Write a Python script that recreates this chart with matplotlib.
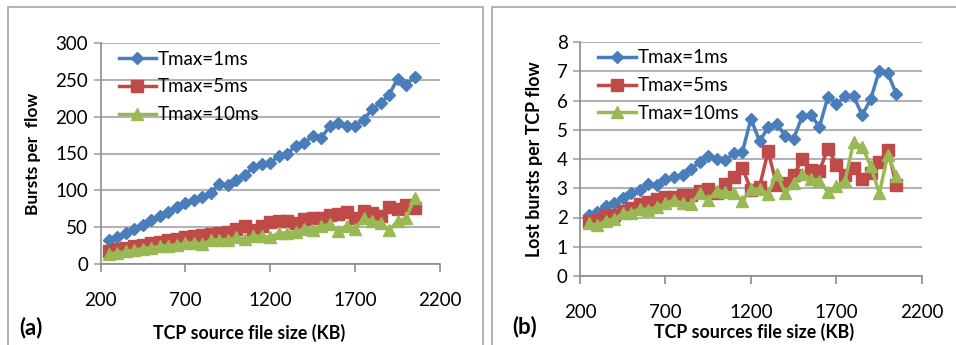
import numpy as np
import matplotlib
matplotlib.use("Agg")
import matplotlib.pyplot as plt
from matplotlib.patches import Rectangle

plt.rcParams["font.family"] = ["Lato", "DejaVu Sans"]

# file sizes (KB)
file_size = np.arange(250, 2051, 50)

# (a) bursts per flow
bursts_1ms = [33, 37, 42, 48, 53, 60, 65, 71, 77, 83, 87, 91, 97, 109, 107, 114, 121, 131, 136,
              137, 147, 150, 160, 164, 174, 171, 187, 191, 187, 188, 196, 210, 218, 230, 251, 243, 254]
bursts_5ms = [18, 20, 22, 24, 26, 28, 30, 32, 34, 36, 38, 39, 41, 42, 44, 47, 52, 46, 52,
              57, 58, 59, 56, 61, 63, 62, 67, 68, 70, 62, 72, 69, 65, 78, 75, 80, 76]
bursts_10ms = [14, 15, 17, 19, 21, 22, 24, 25, 26, 28, 29, 27, 32, 33, 33, 36, 34, 38, 38,
               36, 42, 42, 44, 48, 46, 51, 54, 45, 52, 48, 62, 58, 56, 46, 58, 62, 90]

# (b) lost bursts per TCP flow
lost_1ms = [2.1, 2.2, 2.4, 2.5, 2.65, 2.85, 2.95, 3.15, 3.1, 3.3, 3.4, 3.45, 3.65, 3.9, 4.1, 4.0,
            3.95, 4.2, 4.25, 5.38, 4.6, 5.08, 5.2, 4.8, 4.7, 5.47, 5.5, 5.1, 6.13, 5.88, 6.15,
            6.15, 5.5, 6.04, 7.02, 6.93, 6.22]
lost_5ms = [1.87, 1.9, 2.05, 2.1, 2.23, 2.32, 2.46, 2.53, 2.62, 2.71, 2.69, 2.78, 2.78, 2.9, 2.99,
            2.85, 3.15, 3.4, 3.69, 2.94, 3.05, 4.26, 3.12, 3.19, 3.46, 3.99, 3.62, 3.6, 4.35,
            3.81, 3.44, 3.69, 3.33, 3.51, 3.9, 4.31, 3.1]
lost_10ms = [1.8, 1.73, 1.89, 1.94, 2.14, 2.17, 2.3, 2.26, 2.37, 2.48, 2.6, 2.48, 2.46, 2.85, 2.6,
             2.92, 2.87, 2.83, 2.55, 2.99, 2.96, 2.8, 3.49, 2.83, 3.19, 3.49, 3.33, 3.26, 2.87,
             3.08, 3.26, 4.58, 4.42, 3.76, 2.83, 4.13, 3.42]

labels = ["Tmax=1ms", "Tmax=5ms", "Tmax=10ms"]
colors = ["#4A7EBB", "#BE4B48", "#98B954"]
markers = ["D", "s", "^"]
msizes = [6.5, 8, 8.5]

fig = plt.figure(figsize=(9.56, 3.45), dpi=100)

# panel frames
fig.patches.append(Rectangle((8 / 956, -0.1), 475 / 956, 1.1 - 7 / 345, transform=fig.transFigure,
                             fill=False, edgecolor="#a6a6a6", lw=1.2))
fig.patches.append(Rectangle((492 / 956, -0.1), 0.6, 1.1 - 7 / 345, transform=fig.transFigure,
                             fill=False, edgecolor="#a6a6a6", lw=1.2))

ax1 = fig.add_axes([100.5 / 956, 1 - 264 / 345, (440 - 100.5) / 956, 221 / 345])
ax2 = fig.add_axes([580 / 956, 1 - 276 / 345, (922 - 580) / 956, 234 / 345])


def style(ax, ylim, yticks):
    ax.set_xlim(200, 2200)
    ax.set_ylim(*ylim)
    ax.set_xticks([200, 700, 1200, 1700, 2200])
    ax.set_yticks(yticks)
    ax.grid(axis="y", color="#b3b3b3", lw=1.5)
    ax.set_axisbelow(True)
    for s in ["top", "right"]:
        ax.spines[s].set_visible(False)
    for s in ["left", "bottom"]:
        ax.spines[s].set_color("#8c8c8c")
        ax.spines[s].set_linewidth(1.2)
    ax.tick_params(axis="x", direction="out", length=6, color="#8c8c8c", width=1.2,
                   pad=14, labelsize=13.5)
    ax.tick_params(axis="y", direction="out", length=5, color="#b3b3b3", width=1.5,
                   pad=4, labelsize=13.5)


series_a = [bursts_1ms, bursts_5ms, bursts_10ms]
series_b = [lost_1ms, lost_5ms, lost_10ms]

for vals, lab, c, m, ms in zip(series_a, labels, colors, markers, msizes):
    ax1.plot(file_size, vals, color=c, marker=m, ms=ms, lw=2.5, label=lab)
for vals, lab, c, m, ms in zip(series_b, labels, colors, markers, msizes):
    ax2.plot(file_size, vals, color=c, marker=m, ms=ms, lw=2.5, label=lab)

style(ax1, (0, 300), range(0, 301, 50))
style(ax2, (0, 8), range(0, 9))

ax1.set_ylabel("Bursts per  flow", fontsize=12.5, fontweight="bold", labelpad=10)
ax2.set_ylabel("Lost bursts per TCP flow", fontsize=12.8, fontweight="bold", labelpad=10)

for ax in (ax1, ax2):
    ax.legend(loc="upper left", bbox_to_anchor=(0.015, 1.025), frameon=False, fontsize=13.5,
              handlelength=2.0, handletextpad=0.1, labelspacing=0.58, borderaxespad=0.3)

fig.text(249 / 956, 1 - 333 / 345, "TCP source file size (KB)", ha="center", va="center",
         fontsize=12.8, fontweight="bold")
fig.text(31 / 956, 1 - 328 / 345, "(a)", ha="center", va="center", fontsize=16, fontweight="bold")
fig.text(754 / 956, 1 - 332 / 345, "TCP sources file size (KB)", ha="center", va="center",
         fontsize=12.8, fontweight="bold")
fig.text(525 / 956, 1 - 327 / 345, "(b)", ha="center", va="center", fontsize=16, fontweight="bold")

fig.savefig("out.png", dpi=100)
